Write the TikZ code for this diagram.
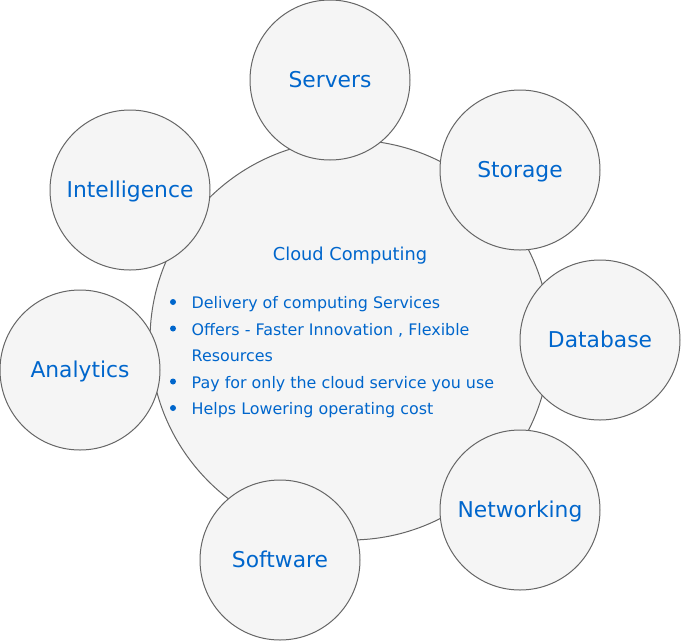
\documentclass[tikz,border=0pt]{standalone}
\usepackage{fontspec}
\setmainfont{DejaVu Sans}
\definecolor{txtblue}{HTML}{0066CC}
\definecolor{cfill}{HTML}{F5F5F5}
\definecolor{cline}{HTML}{666666}
\tikzset{
  bubble/.style={circle, draw=cline, fill=cfill, line width=1pt, inner sep=0pt, minimum size=160pt,
    text=txtblue, font=\fontsize{21.8}{26}\selectfont, text height=15.9pt, text depth=0pt},
  item/.style={anchor=west, inner sep=0pt, text=txtblue, font=\fontsize{15.9}{20}\selectfont,
    text height=11.6pt, text depth=0pt},
  dot/.style={circle, fill=txtblue, inner sep=0pt, minimum size=6pt},
}
\begin{document}
\begin{tikzpicture}[x=1pt, y=-1pt]
    \useasboundingbox (0,0) rectangle (681,641);
    \node[circle, draw=cline, fill=cfill, line width=1pt, inner sep=0pt, minimum size=400pt] (cloud) at (350, 340) {};

    \node[bubble] (servers) at (330, 80) {Servers};
    \node[bubble] (storage) at (520, 170) {Storage};
    \node[bubble] (database) at (600, 340) {Database};
    \node[bubble] (networking) at (520, 510) {Networking};
    \node[bubble] (software) at (280, 560) {Software};
    \node[bubble] (analytics) at (80, 370) {Analytics};
    \node[bubble] (intelligence) at (130, 190) {Intelligence};

    \node[text=txtblue, inner sep=0pt, font=\fontsize{17.8}{22}\selectfont, text height=13pt, text depth=0pt] (title) at (350, 254) {Cloud Computing};

    \node[item] (l1) at (191.5, 303) {Delivery of computing Services};
    \node[item] (l2) at (191.5, 329.5) {Offers - Faster Innovation , Flexible};
    \node[item] (l3) at (191.5, 356) {Resources};
    \node[item] (l4) at (191.5, 382.5) {Pay for only the cloud service you use};
    \node[item] (l5) at (191.5, 409) {Helps Lowering operating cost};

    \node[dot] (d1) at (173, 302) {};
    \node[dot] (d2) at (173, 328.5) {};
    \node[dot] (d4) at (173, 381.5) {};
    \node[dot] (d5) at (173, 408) {};
\end{tikzpicture}
\end{document}
